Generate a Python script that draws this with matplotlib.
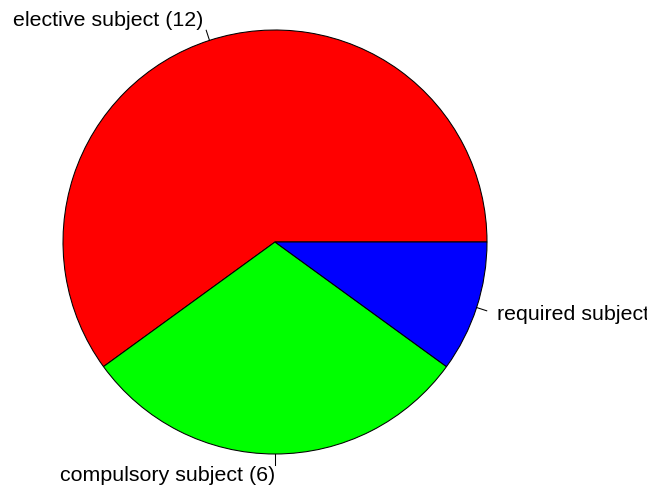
import numpy as np
import matplotlib
matplotlib.use("Agg")
import matplotlib.pyplot as plt

# data
labels = ["elective subject (12)", "compulsory subject (6)", "required subject (2)"]
values = [12, 6, 2]
colors = ["#FF0000", "#00FF00", "#0000FF"]

W, H = 647, 491
fig = plt.figure(figsize=(W / 100, H / 100), dpi=100)
ax = fig.add_axes([0, 0, 1, 1])

cx, cy, r = 275, H - 242, 212

wedges, _ = ax.pie(values, colors=colors, startangle=0, counterclock=True,
                   center=(cx, cy), radius=r,
                   wedgeprops=dict(edgecolor="black", linewidth=0.75))

# R style labels: tick from r to 1.05r, text at 1.1r
frac = np.cumsum([0] + values) / float(sum(values))
for i in range(len(values)):
    ang = np.pi * (frac[i] + frac[i + 1])
    px, py = np.cos(ang), np.sin(ang)
    ax.plot([cx + r * px, cx + 1.05 * r * px], [cy + r * py, cy + 1.05 * r * py],
            color="black", lw=0.75, clip_on=False)
    ax.text(cx + 1.1 * r * px, cy + 1.1 * r * py, labels[i],
            ha="right" if px < 0 else "left", va="center",
            fontsize=15.4, family="Liberation Sans", clip_on=False)

ax.set_xlim(0, W)
ax.set_ylim(0, H)
ax.set_aspect("auto")
ax.axis("off")

fig.savefig("out.png", dpi=100)
